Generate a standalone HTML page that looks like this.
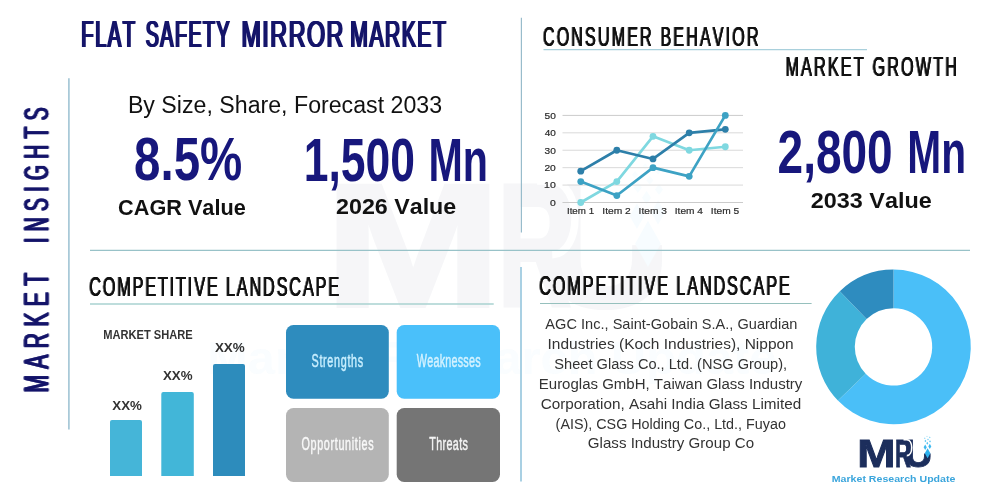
<!DOCTYPE html>
<html lang="en"><head><meta charset="utf-8"><title>Flat Safety Mirror Market</title>
<style>
html,body{margin:0;padding:0;background:#fff}
body{width:1000px;height:500px;overflow:hidden}
svg{display:block;font-family:"Liberation Sans",sans-serif}
</style></head><body>
<svg width="1000" height="500" viewBox="0 0 1000 500">
<rect width="1000" height="500" fill="#ffffff"/>
<g opacity="0.042" transform="translate(-3619,-1841) scale(4.6)">
<text y="466.80" font-size="37.95" font-weight="bold" fill="#1c2e5c" stroke="#1c2e5c" stroke-width="0.9" stroke-linejoin="miter" style="font-kerning:none"><tspan x="857.38" textLength="38.24" lengthAdjust="spacingAndGlyphs">M</tspan><tspan x="894.98" textLength="15.87" lengthAdjust="spacingAndGlyphs">R</tspan><tspan x="904.57" textLength="27.99" lengthAdjust="spacingAndGlyphs">U</tspan></text>
<path d="M903.5 439.6H906.6C913.4 439.8 913.4 455.4 906.8 455.6" fill="none" stroke="#ffffff" stroke-width="1.6"/>
<rect x="922.5" y="436" width="9.5" height="17.5" fill="#ffffff"/>
<path d="M927.60 448.20L930.40 453.20L927.60 458.20L924.80 453.20Z" fill="#2fb2ee"/>
<path d="M925.20 444.40L926.80 447.20L925.20 450.00L923.60 447.20Z" fill="#3db9f0"/>
<path d="M929.80 443.70L931.30 446.40L929.80 449.10L928.30 446.40Z" fill="#3db9f0"/>
<path d="M927.30 441.70L928.30 443.20L927.30 444.70L926.30 443.20Z" fill="#55c4f2"/>
<path d="M925.40 439.80L926.30 441.00L925.40 442.20L924.50 441.00Z" fill="#55c4f2"/>
<path d="M930.00 440.20L930.90 441.40L930.00 442.60L929.10 441.40Z" fill="#55c4f2"/>
<path d="M928.00 438.40L928.80 439.40L928.00 440.40L927.20 439.40Z" fill="#6accf4"/>
<path d="M924.80 437.40L925.50 438.20L924.80 439.00L924.10 438.20Z" fill="#6accf4"/>
<path d="M929.80 436.60L930.50 437.40L929.80 438.20L929.10 437.40Z" fill="#6accf4"/>
<path d="M927.00 435.70L927.60 436.40L927.00 437.10L926.40 436.40Z" fill="#7fd4f6"/>
<text transform="translate(831.79,481.60) scale(1.0729,1)" font-size="9.88" font-weight="bold" fill="#7cc8ee" letter-spacing="0.000" style="font-kerning:none;">Market Research Update</text>
</g>
<g fill="none">
<path d="M68.9 78.2V429.6" stroke="#a0c4d4" stroke-width="1.6"/>
<path d="M521.4 17.8V232.5" stroke="#98bccb" stroke-width="1.2"/><path d="M521 267V481.4" stroke="#a9d0e3" stroke-width="2"/>
<path d="M90 250.4H970" stroke="#98c2c8" stroke-width="1.2"/>
<path d="M543.5 49.7H867" stroke="#a9d0dc" stroke-width="1.3"/>
<path d="M90 304H493.7" stroke="#a8d2d0" stroke-width="1.5"/>
<path d="M540 303.5H811.6" stroke="#96c0bd" stroke-width="1.2"/>
</g>
<text transform="translate(0,47.00)" font-size="37.79" fill="#15156a" style="font-kerning:none;filter:drop-shadow(1.000px 0 0 #15156a) drop-shadow(-1.000px 0 0 #15156a);"><tspan x="81.35" textLength="55.21" lengthAdjust="spacingAndGlyphs" letter-spacing="2.816">FLAT</tspan> <tspan x="145.81" textLength="85.22" lengthAdjust="spacingAndGlyphs" letter-spacing="2.893">SAFETY</tspan> <tspan x="241.49" textLength="103.39" lengthAdjust="spacingAndGlyphs" letter-spacing="2.435">MIRROR</tspan> <tspan x="350.37" textLength="96.91" lengthAdjust="spacingAndGlyphs" letter-spacing="2.687">MARKET</tspan></text>
<text transform="translate(48.30,391.00) rotate(-90)" font-size="35.76" fill="#15156a" style="font-kerning:none;filter:drop-shadow(0.400px 0 0 #15156a) drop-shadow(-0.400px 0 0 #15156a);" stroke="#15156a" stroke-width="0.30" stroke-linejoin="round"><tspan x="-1.07" textLength="126.09" lengthAdjust="spacingAndGlyphs" letter-spacing="10.874">MARKET</tspan> <tspan x="148.59" textLength="141.73" lengthAdjust="spacingAndGlyphs" letter-spacing="11.938">INSIGHTS</tspan></text>
<text transform="translate(543.21,46.40) scale(0.5750,1)" font-size="27.91" fill="#111111" letter-spacing="3.763" style="font-kerning:none;filter:drop-shadow(0.435px 0 0 #111111) drop-shadow(-0.435px 0 0 #111111);">CONSUMER BEHAVIOR</text>
<text transform="translate(785.69,76.20) scale(0.5750,1)" font-size="28.34" fill="#111111" letter-spacing="3.616" style="font-kerning:none;filter:drop-shadow(0.435px 0 0 #111111) drop-shadow(-0.435px 0 0 #111111);">MARKET GROWTH</text>
<text transform="translate(89.40,295.70) scale(0.5750,1)" font-size="28.34" fill="#111111" letter-spacing="3.162" style="font-kerning:none;filter:drop-shadow(0.435px 0 0 #111111) drop-shadow(-0.435px 0 0 #111111);">COMPETITIVE LANDSCAPE</text>
<text transform="translate(539.40,295.40) scale(0.5750,1)" font-size="28.34" fill="#111111" letter-spacing="3.214" style="font-kerning:none;filter:drop-shadow(0.435px 0 0 #111111) drop-shadow(-0.435px 0 0 #111111);">COMPETITIVE LANDSCAPE</text>
<text transform="translate(127.90,112.90) scale(0.9548,1)" font-size="24.27" fill="#111111" letter-spacing="0.000" style="font-kerning:none;">By Size, Share, Forecast 2033</text>
<text transform="translate(134.09,180.40) scale(0.7718,1)" font-size="61.48" font-weight="bold" fill="#17177c" letter-spacing="0.000" style="font-kerning:none;">8.5%</text>
<text transform="translate(0,180.50)" font-size="61.63" font-weight="bold" fill="#17177c" style="font-kerning:none;"><tspan x="303.70" textLength="111.33" lengthAdjust="spacingAndGlyphs" letter-spacing="0.000">1,500</tspan> <tspan x="428.44" textLength="59.51" lengthAdjust="spacingAndGlyphs" letter-spacing="0.000">Mn</tspan></text>
<text transform="translate(0,173.20)" font-size="61.63" font-weight="bold" fill="#17177c" style="font-kerning:none;"><tspan x="777.61" textLength="115.08" lengthAdjust="spacingAndGlyphs" letter-spacing="0.000">2,800</tspan> <tspan x="907.28" textLength="58.74" lengthAdjust="spacingAndGlyphs" letter-spacing="0.000">Mn</tspan></text>
<text transform="translate(118.11,215.00) scale(0.9618,1)" font-size="22.53" font-weight="bold" fill="#111111" letter-spacing="0.000" style="font-kerning:none;">CAGR Value</text>
<text transform="translate(336.09,214.20) scale(1.0319,1)" font-size="22.53" font-weight="bold" fill="#111111" letter-spacing="0.000" style="font-kerning:none;">2026 Value</text>
<text transform="translate(810.79,207.60) scale(1.0380,1)" font-size="22.53" font-weight="bold" fill="#111111" letter-spacing="0.000" style="font-kerning:none;">2033 Value</text>
<g stroke="#d9d9d9" stroke-width="1" fill="none">
<path d="M562.5 115.40H743" stroke="#cbcbcb"/>
<path d="M562.5 132.82H743"/>
<path d="M562.5 150.24H743"/>
<path d="M562.5 167.66H743"/>
<path d="M562.5 185.08H743"/>
<path d="M562.5 202.50H743" stroke="#cbcbcb"/>
</g>
<polyline points="580.75,202.50 616.80,181.60 653.00,136.30 689.20,150.24 725.30,146.76" fill="none" stroke="#7fd8e0" stroke-width="2.7" stroke-linejoin="round" stroke-linecap="round"/>
<circle cx="580.75" cy="202.50" r="3.4" fill="#7fd8e0"/>
<circle cx="616.80" cy="181.60" r="3.4" fill="#7fd8e0"/>
<circle cx="653.00" cy="136.30" r="3.4" fill="#7fd8e0"/>
<circle cx="689.20" cy="150.24" r="3.4" fill="#7fd8e0"/>
<circle cx="725.30" cy="146.76" r="3.4" fill="#7fd8e0"/>
<polyline points="580.75,171.14 616.80,150.24 653.00,158.95 689.20,132.82 725.30,129.34" fill="none" stroke="#2d7fa9" stroke-width="2.7" stroke-linejoin="round" stroke-linecap="round"/>
<circle cx="580.75" cy="171.14" r="3.4" fill="#2d7fa9"/>
<circle cx="616.80" cy="150.24" r="3.4" fill="#2d7fa9"/>
<circle cx="653.00" cy="158.95" r="3.4" fill="#2d7fa9"/>
<circle cx="689.20" cy="132.82" r="3.4" fill="#2d7fa9"/>
<circle cx="725.30" cy="129.34" r="3.4" fill="#2d7fa9"/>
<polyline points="580.75,181.60 616.80,195.53 653.00,167.66 689.20,176.37 725.30,115.40" fill="none" stroke="#3da2c4" stroke-width="2.7" stroke-linejoin="round" stroke-linecap="round"/>
<circle cx="580.75" cy="181.60" r="3.4" fill="#3da2c4"/>
<circle cx="616.80" cy="195.53" r="3.4" fill="#3da2c4"/>
<circle cx="653.00" cy="167.66" r="3.4" fill="#3da2c4"/>
<circle cx="689.20" cy="176.37" r="3.4" fill="#3da2c4"/>
<circle cx="725.30" cy="115.40" r="3.4" fill="#3da2c4"/>
<text transform="translate(544.49,118.70) scale(1.0925,1)" font-size="9.30" fill="#2b2b2b" letter-spacing="0.000" style="font-kerning:none;" stroke="#2b2b2b" stroke-width="0.20" stroke-linejoin="round">50</text>
<text transform="translate(544.67,136.12) scale(1.0747,1)" font-size="9.30" fill="#2b2b2b" letter-spacing="0.000" style="font-kerning:none;" stroke="#2b2b2b" stroke-width="0.20" stroke-linejoin="round">40</text>
<text transform="translate(544.51,153.54) scale(1.0904,1)" font-size="9.30" fill="#2b2b2b" letter-spacing="0.000" style="font-kerning:none;" stroke="#2b2b2b" stroke-width="0.20" stroke-linejoin="round">30</text>
<text transform="translate(544.38,170.96) scale(1.1034,1)" font-size="9.30" fill="#2b2b2b" letter-spacing="0.000" style="font-kerning:none;" stroke="#2b2b2b" stroke-width="0.20" stroke-linejoin="round">20</text>
<text transform="translate(544.10,188.38) scale(1.1321,1)" font-size="9.30" fill="#2b2b2b" letter-spacing="0.000" style="font-kerning:none;" stroke="#2b2b2b" stroke-width="0.20" stroke-linejoin="round">10</text>
<text transform="translate(549.99,205.80) scale(1.1244,1)" font-size="9.30" fill="#2b2b2b" letter-spacing="0.000" style="font-kerning:none;" stroke="#2b2b2b" stroke-width="0.20" stroke-linejoin="round">0</text>
<text transform="translate(566.95,213.80) scale(0.9896,1)" font-size="9.88" fill="#2b2b2b" letter-spacing="0.000" style="font-kerning:none;" stroke="#2b2b2b" stroke-width="0.20" stroke-linejoin="round">Item 1</text>
<text transform="translate(602.35,213.80) scale(1.0362,1)" font-size="9.88" fill="#2b2b2b" letter-spacing="0.000" style="font-kerning:none;" stroke="#2b2b2b" stroke-width="0.20" stroke-linejoin="round">Item 2</text>
<text transform="translate(638.56,213.80) scale(1.0337,1)" font-size="9.88" fill="#2b2b2b" letter-spacing="0.000" style="font-kerning:none;" stroke="#2b2b2b" stroke-width="0.20" stroke-linejoin="round">Item 3</text>
<text transform="translate(674.76,213.80) scale(1.0281,1)" font-size="9.88" fill="#2b2b2b" letter-spacing="0.000" style="font-kerning:none;" stroke="#2b2b2b" stroke-width="0.20" stroke-linejoin="round">Item 4</text>
<text transform="translate(710.86,213.80) scale(1.0330,1)" font-size="9.88" fill="#2b2b2b" letter-spacing="0.000" style="font-kerning:none;" stroke="#2b2b2b" stroke-width="0.20" stroke-linejoin="round">Item 5</text>
<text transform="translate(103.26,339.00) scale(0.9108,1)" font-size="12.21" font-weight="bold" fill="#333333" letter-spacing="0.000" style="font-kerning:none;">MARKET SHARE</text>
<path d="M110.0 476.0V422.0Q110.0 420.0 112.0 420.0H140.0Q142.0 420.0 142.0 422.0V476.0Z" fill="#45b5d8"/>
<path d="M161.3 476.0V394.0Q161.3 392.0 163.3 392.0H191.8Q193.8 392.0 193.8 394.0V476.0Z" fill="#42b6d8"/>
<path d="M213.0 476.0V366.0Q213.0 364.0 215.0 364.0H243.0Q245.0 364.0 245.0 366.0V476.0Z" fill="#2d8cbc"/>
<text transform="translate(112.28,409.50) scale(1.1062,1)" font-size="12.06" font-weight="bold" fill="#333333" letter-spacing="0.000" style="font-kerning:none;">XX%</text>
<text transform="translate(162.88,380.00) scale(1.1062,1)" font-size="12.06" font-weight="bold" fill="#333333" letter-spacing="0.000" style="font-kerning:none;">XX%</text>
<text transform="translate(214.88,351.80) scale(1.1138,1)" font-size="12.06" font-weight="bold" fill="#333333" letter-spacing="0.000" style="font-kerning:none;">XX%</text>
<rect x="286.0" y="325.0" width="102.8" height="73.8" rx="7.5" fill="#2e8cbe"/>
<rect x="396.7" y="325.0" width="103.3" height="73.8" rx="7.5" fill="#4ac0fa"/>
<rect x="286.0" y="408.0" width="102.8" height="74.0" rx="7.5" fill="#b4b4b4"/>
<rect x="396.7" y="408.0" width="103.3" height="74.0" rx="7.5" fill="#757575"/>
<text transform="translate(311.51,367.00) scale(0.6200,1)" font-size="17.44" fill="#c9efff" letter-spacing="1.088" style="font-kerning:none;" stroke="#c9efff" stroke-width="0.45" stroke-linejoin="round">Strengths</text>
<text transform="translate(416.85,367.00) scale(0.6200,1)" font-size="17.44" fill="#d4f2ff" letter-spacing="0.328" style="font-kerning:none;" stroke="#d4f2ff" stroke-width="0.45" stroke-linejoin="round">Weaknesses</text>
<text transform="translate(301.49,449.70) scale(0.6200,1)" font-size="17.44" fill="#f8f8f8" letter-spacing="1.046" style="font-kerning:none;" stroke="#f8f8f8" stroke-width="0.45" stroke-linejoin="round">Opportunities</text>
<text transform="translate(429.36,449.70) scale(0.6200,1)" font-size="17.44" fill="#f4f4f4" letter-spacing="0.503" style="font-kerning:none;" stroke="#f4f4f4" stroke-width="0.45" stroke-linejoin="round">Threats</text>
<text transform="translate(545.37,329.10) scale(0.9465,1)" font-size="15.41" fill="#333333" letter-spacing="0.000" style="font-kerning:none;">AGC Inc., Saint-Gobain S.A., Guardian</text>
<text transform="translate(547.57,348.90) scale(1.0062,1)" font-size="15.41" fill="#333333" letter-spacing="0.000" style="font-kerning:none;">Industries (Koch Industries), Nippon</text>
<text transform="translate(554.34,369.00) scale(0.9480,1)" font-size="15.41" fill="#333333" letter-spacing="0.000" style="font-kerning:none;">Sheet Glass Co., Ltd. (NSG Group),</text>
<text transform="translate(538.77,388.80) scale(0.9748,1)" font-size="15.41" fill="#333333" letter-spacing="0.000" style="font-kerning:none;">Euroglas GmbH, Taiwan Glass Industry</text>
<text transform="translate(540.72,408.60) scale(0.9915,1)" font-size="15.41" fill="#333333" letter-spacing="0.000" style="font-kerning:none;">Corporation, Asahi India Glass Limited</text>
<text transform="translate(555.61,428.60) scale(0.9310,1)" font-size="15.41" fill="#333333" letter-spacing="0.000" style="font-kerning:none;">(AIS), CSG Holding Co., Ltd., Fuyao</text>
<text transform="translate(587.84,448.40) scale(0.9814,1)" font-size="15.41" fill="#333333" letter-spacing="0.000" style="font-kerning:none;">Glass Industry Group Co</text>
<path d="M893.50 269.60A77.3 77.3 0 1 1 837.90 400.60L865.66 373.78A38.7 38.7 0 1 0 893.50 308.20Z" fill="#4abff8"/>
<path d="M837.90 400.60A77.3 77.3 0 0 1 839.80 291.30L866.62 319.06A38.7 38.7 0 0 0 865.66 373.78Z" fill="#3fb2d9"/>
<path d="M839.80 291.30A77.3 77.3 0 0 1 893.50 269.60L893.50 308.20A38.7 38.7 0 0 0 866.62 319.06Z" fill="#2e8cbf"/>
<text y="466.80" font-size="37.95" font-weight="bold" fill="#1c2e5c" stroke="#1c2e5c" stroke-width="0.9" stroke-linejoin="miter" style="font-kerning:none"><tspan x="857.38" textLength="38.24" lengthAdjust="spacingAndGlyphs">M</tspan><tspan x="894.98" textLength="15.87" lengthAdjust="spacingAndGlyphs">R</tspan><tspan x="904.57" textLength="27.99" lengthAdjust="spacingAndGlyphs">U</tspan></text>
<path d="M903.5 439.6H906.6C913.4 439.8 913.4 455.4 906.8 455.6" fill="none" stroke="#ffffff" stroke-width="1.6"/>
<rect x="922.5" y="436" width="9.5" height="17.5" fill="#ffffff"/>
<path d="M927.60 448.20L930.40 453.20L927.60 458.20L924.80 453.20Z" fill="#2fb2ee"/>
<path d="M925.20 444.40L926.80 447.20L925.20 450.00L923.60 447.20Z" fill="#3db9f0"/>
<path d="M929.80 443.70L931.30 446.40L929.80 449.10L928.30 446.40Z" fill="#3db9f0"/>
<path d="M927.30 441.70L928.30 443.20L927.30 444.70L926.30 443.20Z" fill="#55c4f2"/>
<path d="M925.40 439.80L926.30 441.00L925.40 442.20L924.50 441.00Z" fill="#55c4f2"/>
<path d="M930.00 440.20L930.90 441.40L930.00 442.60L929.10 441.40Z" fill="#55c4f2"/>
<path d="M928.00 438.40L928.80 439.40L928.00 440.40L927.20 439.40Z" fill="#6accf4"/>
<path d="M924.80 437.40L925.50 438.20L924.80 439.00L924.10 438.20Z" fill="#6accf4"/>
<path d="M929.80 436.60L930.50 437.40L929.80 438.20L929.10 437.40Z" fill="#6accf4"/>
<path d="M927.00 435.70L927.60 436.40L927.00 437.10L926.40 436.40Z" fill="#7fd4f6"/>
<text transform="translate(831.79,481.60) scale(1.0729,1)" font-size="9.88" font-weight="bold" fill="#3aa5dc" letter-spacing="0.000" style="font-kerning:none;">Market Research Update</text>
</svg>
</body></html>
